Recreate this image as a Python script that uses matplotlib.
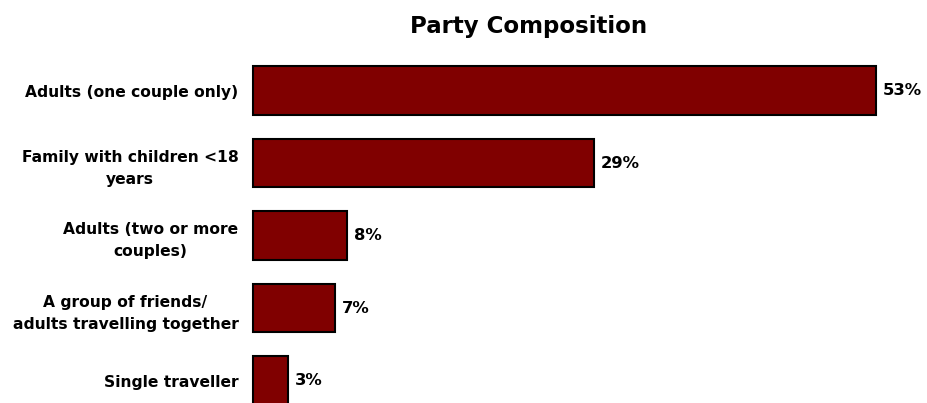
import matplotlib
matplotlib.use("Agg")
import matplotlib.pyplot as plt

categories = ["Adults (one couple only)", "Family with children <18\nyears",
              "Adults (two or more\ncouples)", "A group of friends/\nadults travelling together",
              "Single traveller"]
values = [53, 29, 8, 7, 3]
value_labels = ["53%", "29%", "8%", "7%", "3%"]
title = "Party Composition"

plt.rcParams['font.family'] = ['DejaVu Sans']
fig = plt.figure(figsize=(9.28, 4.03), dpi=100)
ax = fig.add_axes([253/928, 0, 646.25/928, (403-47)/403])
pos = list(range(len(values)))
ax.barh(pos, values, height=0.67, color='#800000', edgecolor='black', linewidth=1.5, clip_on=False)
ax.set_ylim(4.31, -0.6)
ax.set_xlim(0, 55)
ax.set_yticks(pos)
ax.set_yticklabels(categories, fontsize=11.2, fontweight='bold', multialignment='center',
                   linespacing=1.62)
ax.tick_params(axis='y', length=0, pad=10.5)
ax.set_xticks([])
for s in ax.spines.values():
    s.set_visible(False)
for p, v, l in zip(pos, values, value_labels):
    ax.text(v + 0.6, p, l, va='center', ha='left', fontsize=11.8, fontweight='bold')
fig.text(529/928, 1 - 33/403, title, ha='center', va='baseline', fontsize=16.5, fontweight='bold')
fig.savefig("out.png", dpi=100)
